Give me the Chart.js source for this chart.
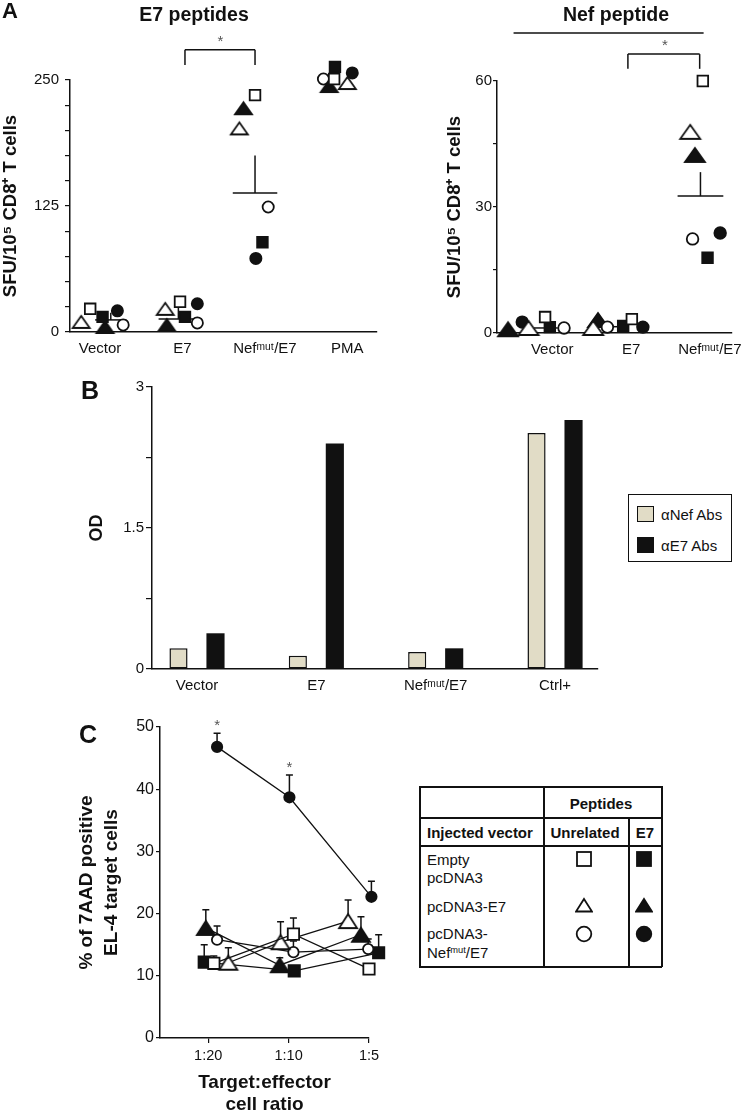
<!DOCTYPE html>
<html>
<head>
<meta charset="utf-8">
<title>Nef mut / E7 responses</title>
<script src="https://cdn.jsdelivr.net/npm/chart.js"></script>
<style>
  body { margin: 0; width: 743px; height: 1113px; position: relative; overflow: hidden; background: #fff;
         font-family: "Liberation Sans", Arial, sans-serif; color: #111; }
  canvas { position: absolute; }
  .t { position: absolute; line-height: 1; white-space: nowrap; }
  .t sup { font-size: 62%; vertical-align: 0.5em; line-height: 0; }
  .ln { position: absolute; background: #111; }
  .box { position: absolute; border: 1.5px solid #111; box-sizing: border-box; }
</style>
</head>
<body>
<script>
// ---------- A: E7 peptides (SFU / 10^5 CD8+ T cells) ----------
const groupsA = ['Vector', 'E7', 'Nefᵐᵘᵗ/E7', 'PMA'];
const aOpenSq     = [23, 30, 235, 251];
const aFilledSq   = [15, 15, 89, 263];
const aOpenTri    = [10, 23, 202, 247];
const aFilledTri  = [5, 7, 222, 244];
const aOpenCirc   = [7, 9, 124, 251];
const aFilledCirc = [21, 28, 73, 257];
const aMean = [12, 13, 138];
const aSem  = [7, 12, 37];

// ---------- A: Nef peptide ----------
const groupsN = ['Vector', 'E7', 'Nefᵐᵘᵗ/E7'];
const nOpenSq     = [3.8, 3.3, 60];
const nFilledSq   = [1.4, 1.7, 17.9];
const nOpenTri    = [1.2, 1.2, 47.9];
const nFilledTri  = [0.9, 3.1, 42.4];
const nOpenCirc   = [1.2, 1.4, 22.4];
const nFilledCirc = [2.6, 1.4, 23.8];
const nMean = [1.2, 1.5, 32.6];
const nSem  = [0, 0, 5.7];

// ---------- B: antibodies (OD) ----------
const groupsB = ['Vector', 'E7', 'Nefᵐᵘᵗ/E7', 'Ctrl+'];
const odNef = [0.22, 0.14, 0.18, 2.51];
const odE7  = [0.38, 2.40, 0.22, 2.65];

// ---------- C: % 7AAD positive EL-4 target cells ----------
const ratiosC = ['1:20', '1:10', '1:5'];
const cFilledCirc = [46.8, 38.7, 22.7], cFilledCircErr = [2.2, 3.6, 2.5];
const cFilledTri  = [17.7, 11.7, 16.6], cFilledTriErr  = [2.9, 1.2, 2.9];
const cFilledSq   = [12.2, 10.8, 13.7], cFilledSqErr   = [2.8, 0.8, 2.9];
const cOpenSq     = [12.0, 16.7, 11.1], cOpenSqErr     = [1.2, 2.6, 0.6];
const cOpenTri    = [12.1, 15.4, 18.8], cOpenTriErr    = [2.4, 3.3, 3.4];
const cOpenCirc   = [15.8, 13.8, 14.3], cOpenCircErr   = [2.2, 1.8, 1.6];
const starsC = [0, 1];

// horizontal scatter of the symbols inside a group (category units)
const jitA = { openSq: [-0.12, -0.03, -0.12, -0.16], filledSq: [0.03, 0.03, -0.03, -0.15],
  openTri: [-0.23, -0.21, -0.31, 0], filledTri: [0.06, -0.19, -0.26, -0.22],
  openCirc: [0.28, 0.18, 0.04, -0.29], filledCirc: [0.21, 0.18, -0.11, 0.06] };
const jitN = { openSq: [-0.09, 0.01, -0.09], filledSq: [-0.03, -0.10, -0.03],
  openTri: [-0.30, -0.48, -0.25], filledTri: [-0.56, -0.42, -0.19],
  openCirc: [0.15, -0.30, -0.22], filledCirc: [-0.38, 0.15, 0.13] };
const jitC = { filledCirc: [0.11, 0.01, 0.03], filledTri: [-0.03, -0.11, -0.10],
  filledSq: [-0.05, 0.07, 0.12], openSq: [0.07, 0.06, 0],
  openTri: [0.25, -0.10, -0.26], openCirc: [0.11, 0.06, -0.01] };

Chart.defaults.font.family = '"Liberation Sans", Arial, sans-serif';
Chart.defaults.color = '#111';
Chart.defaults.animation = false;
Chart.defaults.events = [];
Chart.defaults.plugins.legend.display = false;
Chart.defaults.plugins.tooltip.enabled = false;

const INK = '#111';

function triImg(w, h, filled) {
  const c = document.createElement('canvas');
  c.width = w + 6; c.height = h + 6;
  const g = c.getContext('2d');
  g.beginPath();
  g.moveTo(c.width / 2, 3); g.lineTo(w + 3, h + 3); g.lineTo(3, h + 3); g.closePath();
  g.fillStyle = filled ? INK : '#fff'; g.fill();
  g.lineWidth = 1.8; g.strokeStyle = INK; g.stroke();
  return c;
}

function symbolSet(values, jitter, first, kind, filled, size, line) {
  const style = kind === 'tri' ? triImg(size.tw, size.th, filled) : (kind === 'sq' ? 'rect' : 'circle');
  return {
    type: 'scatter',
    data: values.map((v, i) => ({ x: i + first + jitter[i], y: v })),
    pointStyle: style,
    pointRadius: kind === 'sq' ? size.sq : (kind === 'circ' ? size.circ : 8),
    pointHoverRadius: 30,
    pointBackgroundColor: filled ? INK : '#fff',
    pointBorderColor: INK,
    pointBorderWidth: 1.8,
    showLine: !!line,
    borderColor: INK,
    borderWidth: 1.3,
    clip: false
  };
}

const annot = {
  id: 'annot',
  beforeDatasetsDraw(chart, args, o) {
    const { ctx } = chart, x = chart.scales.x, y = chart.scales.y;
    ctx.save();
    ctx.strokeStyle = INK; ctx.lineWidth = 1.5;
    (o.segs || []).forEach(([x1, y1, x2, y2]) => {
      ctx.beginPath();
      ctx.moveTo(x.getPixelForValue(x1), y.getPixelForValue(y1));
      ctx.lineTo(x.getPixelForValue(x2), y.getPixelForValue(y2));
      ctx.stroke();
    });
    (o.errs || []).forEach(([xv, y0, y1]) => {
      const px = x.getPixelForValue(xv), top = y.getPixelForValue(y1);
      ctx.beginPath();
      ctx.moveTo(px, y.getPixelForValue(y0)); ctx.lineTo(px, top);
      ctx.moveTo(px - 3.5, top); ctx.lineTo(px + 3.5, top);
      ctx.stroke();
    });
    ctx.restore();
  },
  afterDatasetsDraw(chart, args, o) {
    const { ctx } = chart, x = chart.scales.x, y = chart.scales.y;
    ctx.save();
    ctx.fillStyle = '#555'; ctx.font = '15px "Liberation Sans", Arial, sans-serif';
    ctx.textAlign = 'center'; ctx.textBaseline = 'middle';
    (o.stars || []).forEach(([xv, yv]) => ctx.fillText('*', x.getPixelForValue(xv), y.getPixelForValue(yv) + 3));
    ctx.restore();
  }
};

function yAxis(o) {
  return {
    min: o.min, max: o.max,
    ticks: { stepSize: o.step, callback: o.label, padding: o.pad, font: { size: o.fsize || 15 } },
    grid: { drawOnChartArea: false, tickLength: o.tick, color: INK, lineWidth: 1.2 },
    border: { color: INK, width: 1.5 },
    title: { display: true, text: o.title, font: { size: o.tsize, weight: 'bold', lineHeight: o.lh || 1.2 },
             padding: { top: o.tpad, bottom: 0 } },
    afterFit: s => { s.width = o.width; s.paddingTop = 0; s.paddingBottom = 0; }
  };
}

function xAxis(o) {
  return {
    type: 'linear', min: o.min, max: o.max, offset: false,
    afterBuildTicks: s => { s.ticks = o.labels.map((_, i) => ({ value: i + o.first })); },
    ticks: { callback: v => o.labels[Math.round(v - o.first)], padding: o.pad, font: { size: o.fsize || 15 },
             autoSkip: false, maxRotation: 0 },
    grid: { display: !!o.tick, drawOnChartArea: false, drawTicks: !!o.tick, tickLength: o.tick || 0,
            color: INK, lineWidth: 1.2 },
    border: { color: INK, width: 1.5 },
    title: o.title ? { display: true, text: o.title, font: { size: 19, weight: 'bold', lineHeight: 1.16 },
                       padding: { top: 0, bottom: 0 } } : { display: false },
    afterFit: s => { s.height = o.height; s.paddingLeft = 0; s.paddingRight = 0; }
  };
}

function makeCanvas(left, top, w, h) {
  const c = document.createElement('canvas');
  c.width = w; c.height = h;
  c.style.left = left + 'px'; c.style.top = top + 'px';
  document.body.appendChild(c);
  return c;
}

function put(html, x, y, size, bold, leftAlign) {
  const d = document.createElement('div');
  d.className = 't';
  d.innerHTML = html;
  d.style.left = x + 'px'; d.style.top = y + 'px'; d.style.fontSize = size + 'px';
  if (bold) d.style.fontWeight = 'bold';
  d.style.transform = leftAlign ? 'translate(0,-50%)' : 'translate(-50%,-50%)';
  document.body.appendChild(d);
}

function meanSegs(mean, sem, first, off, hw) {
  const segs = [];
  mean.forEach((m, i) => {
    const cx = i + first + off[i];
    segs.push([cx - hw[i], m, cx + hw[i], m]);
    if (sem[i]) segs.push([cx, m, cx, m + sem[i]]);
  });
  return segs;
}

// ---------- panel A, left ----------
const sizeA = { sq: 7.5, circ: 5.6, tw: 17, th: 12 };
new Chart(makeCanvas(0, 0, 380, 370), {
  type: 'scatter',
  data: { datasets: [
    symbolSet(aOpenTri, jitA.openTri, 1, 'tri', false, sizeA),
    symbolSet(aOpenSq, jitA.openSq, 1, 'sq', false, sizeA),
    symbolSet(aFilledSq, jitA.filledSq, 1, 'sq', true, sizeA),
    symbolSet(aFilledTri, jitA.filledTri, 1, 'tri', true, sizeA),
    symbolSet(aFilledCirc, jitA.filledCirc, 1, 'circ', true, sizeA),
    symbolSet(aOpenCirc, jitA.openCirc, 1, 'circ', false, sizeA)
  ] },
  options: {
    responsive: false,
    layout: { autoPadding: false, padding: { top: 80, right: 3, left: 0, bottom: 0 } },
    scales: {
      x: xAxis({ min: 0.635, max: 4.36, labels: groupsA, first: 1, pad: 8, height: 38 }),
      y: yAxis({ min: 0, max: 250, step: 25, label: v => (v % 125 === 0 ? v : ''), pad: 6, tick: 5,
                 title: 'SFU/10⁵ CD8⁺ T cells', tsize: 18.5, tpad: 0, width: 70 })
    },
    plugins: { annot: {
      segs: meanSegs(aMean, aSem, 1, [0.13, -0.05, -0.12], [0.19, 0.24, 0.27]).concat([
        [2.03, 265, 2.03, 280], [2.03, 280, 2.88, 280], [2.88, 280, 2.88, 265]]),
      stars: [[2.46, 291]]
    } }
  },
  plugins: [annot]
});

// ---------- panel A, right ----------
const sizeN = { sq: 7.5, circ: 5.8, tw: 20, th: 14 };
new Chart(makeCanvas(380, 0, 400, 370), {
  type: 'scatter',
  data: { datasets: [
    symbolSet(nOpenTri, jitN.openTri, 1, 'tri', false, sizeN),
    symbolSet(nOpenSq, jitN.openSq, 1, 'sq', false, sizeN),
    symbolSet(nFilledSq, jitN.filledSq, 1, 'sq', true, sizeN),
    symbolSet(nOpenCirc, jitN.openCirc, 1, 'circ', false, sizeN),
    symbolSet(nFilledTri, jitN.filledTri, 1, 'tri', true, sizeN),
    symbolSet(nFilledCirc, jitN.filledCirc, 1, 'circ', true, sizeN)
  ] },
  options: {
    responsive: false,
    layout: { autoPadding: false, padding: { top: 81, right: 48, left: 0, bottom: 0 } },
    scales: {
      x: xAxis({ min: 0.30, max: 3.28, labels: groupsN, first: 1, pad: 8, height: 37 }),
      y: yAxis({ min: 0, max: 60, step: 15, label: v => (v % 30 === 0 ? v : ''), pad: 1, tick: 4,
                 title: 'SFU/10⁵ CD8⁺ T cells', tsize: 18.5, tpad: 64, width: 117 })
    },
    plugins: { annot: {
      segs: meanSegs(nMean, nSem, 1, [-0.08, -0.23, -0.12], [0.15, 0.17, 0.29]).concat([
        [0.51, 71.4, 2.92, 71.4],
        [1.96, 62.9, 1.96, 66.4], [1.96, 66.4, 2.87, 66.4], [2.87, 66.4, 2.87, 62.9]]),
      stars: [[2.43, 69.2]]
    } }
  },
  plugins: [annot]
});

// ---------- panel B ----------
new Chart(makeCanvas(80, 370, 530, 330), {
  type: 'bar',
  data: { datasets: [
    { data: odNef.map((v, i) => ({ x: i + 1, y: v })), backgroundColor: '#e1dcc6',
      borderColor: INK, borderWidth: 1.5, borderSkipped: false },
    { data: odE7.map((v, i) => ({ x: i + 1, y: v })), backgroundColor: INK, borderWidth: 0 }
  ] },
  options: {
    responsive: false,
    categoryPercentage: 0.62, barPercentage: 0.49,
    layout: { autoPadding: false, padding: { top: 17, right: 12, left: 0, bottom: 0 } },
    scales: {
      x: xAxis({ min: 0.623, max: 4.36, labels: groupsB, first: 1, pad: 8, height: 31 }),
      y: yAxis({ min: 0, max: 3, step: 0.75,
                 label: v => (Math.abs(v % 1.5) < 1e-6 || Math.abs(v % 1.5 - 1.5) < 1e-6 ? String(+v.toFixed(2)) : ''),
                 pad: 2, tick: 6, title: 'OD', tsize: 18, tpad: 6, width: 72 })
    }
  }
});

// ---------- panel C ----------
const sizeC = { sq: 8, circ: 5.2, tw: 18, th: 14 };
const cSeries = [
  [cOpenSq, cOpenSqErr, jitC.openSq, 'sq', false],
  [cOpenTri, cOpenTriErr, jitC.openTri, 'tri', false],
  [cOpenCirc, cOpenCircErr, jitC.openCirc, 'circ', false],
  [cFilledSq, cFilledSqErr, jitC.filledSq, 'sq', true],
  [cFilledTri, cFilledTriErr, jitC.filledTri, 'tri', true],
  [cFilledCirc, cFilledCircErr, jitC.filledCirc, 'circ', true]
];
const errsC = [];
cSeries.forEach(([vals, errs, jit]) => vals.forEach((v, i) => {
  if (errs[i]) errsC.push([i + jit[i], v, v + errs[i]]);
}));
new Chart(makeCanvas(0, 700, 400, 416), {
  type: 'scatter',
  data: { datasets: cSeries.map(([vals, errs, jit, kind, filled]) =>
    symbolSet(vals, jit, 0, kind, filled, sizeC, true)) },
  options: {
    responsive: false,
    layout: { autoPadding: false, padding: { top: 27, right: 31, left: 0, bottom: 0 } },
    scales: {
      x: xAxis({ min: -0.6, max: 2.0, labels: ratiosC, first: 0, pad: 4, tick: 5, height: 78, fsize: 14.5,
                 title: ['Target:effector', 'cell ratio'] }),
      y: yAxis({ min: 0, max: 50, step: 10, label: v => v, pad: 2, tick: 4, fsize: 16,
                 title: ['% of 7AAD positive', 'EL-4 target cells'], tsize: 19, lh: 1.3, tpad: 74.6, width: 160 })
    },
    plugins: { annot: {
      errs: errsC,
      stars: starsC.map(i => [i + jitC.filledCirc[i], cFilledCirc[i] + cFilledCircErr[i] + 1.6])
    } }
  },
  plugins: [annot]
});

// ---------- titles and panel letters ----------
put('A', 10, 11, 22, true);
put('E7 peptides', 194, 15, 19.5, true);
put('Nef peptide', 616, 15, 19.5, true);
put('B', 90, 390, 25, true);
put('C', 88, 734, 25, true);

// ---------- legend for B ----------
(function () {
  const b = document.createElement('div');
  b.className = 'box';
  Object.assign(b.style, { left: '628px', top: '494px', width: '104px', height: '68px' });
  document.body.appendChild(b);
  const sw1 = document.createElement('div');
  sw1.className = 'box';
  Object.assign(sw1.style, { left: '637px', top: '506px', width: '17px', height: '16px', background: '#e1dcc6' });
  document.body.appendChild(sw1);
  const sw2 = document.createElement('div');
  Object.assign(sw2.style, { position: 'absolute', left: '637px', top: '537px', width: '17px', height: '16px', background: INK });
  document.body.appendChild(sw2);
  put('αNef Abs', 661, 514, 15, false, true);
  put('αE7 Abs', 661, 545, 15, false, true);
})();

// ---------- symbol key table for C ----------
(function () {
  const lines = [
    [419, 786, 243, 1.5], [419, 966, 243, 1.5], [419, 786, 1.5, 181], [661, 786, 1.5, 181],
    [419, 817, 243, 1.5], [419, 845, 243, 1.5], [543, 786, 1.5, 181], [628, 817, 1.5, 150]
  ];
  lines.forEach(([l, t, w, h]) => {
    const d = document.createElement('div');
    d.className = 'ln';
    Object.assign(d.style, { left: l + 'px', top: t + 'px', width: w + 'px', height: h + 'px' });
    document.body.appendChild(d);
  });
  put('Peptides', 601, 803, 15, true);
  put('Injected vector', 427, 832, 15, true, true);
  put('Unrelated', 585, 832, 15, true);
  put('E7', 645, 832, 15, true);
  put('Empty', 427, 859, 15, false, true);
  put('pcDNA3', 427, 877, 15, false, true);
  put('pcDNA3-E7', 427, 906, 15, false, true);
  put('pcDNA3-', 427, 933, 15, false, true);
  put('Nef<sup>mut</sup>/E7', 427, 952, 15, false, true);

  const shapes = {
    sq: '<rect x="2" y="2" width="14" height="14"/>',
    tri: '<polygon points="9,3 17,15.5 1,15.5"/>',
    circ: '<circle cx="9" cy="9" r="7.3"/>'
  };
  [['sq', 859], ['tri', 905], ['circ', 934]].forEach(([k, y]) => {
    [[584, false], [644, true]].forEach(([x, filled]) => {
      const d = document.createElement('div');
      Object.assign(d.style, { position: 'absolute', left: (x - 9) + 'px', top: (y - 9) + 'px', width: '18px', height: '18px' });
      d.innerHTML = '<svg width="18" height="18" viewBox="0 0 18 18"><g fill="' + (filled ? INK : '#fff') +
        '" stroke="' + INK + '" stroke-width="1.8">' + shapes[k] + '</g></svg>';
      document.body.appendChild(d);
    });
  });
})();
</script>
</body>
</html>
